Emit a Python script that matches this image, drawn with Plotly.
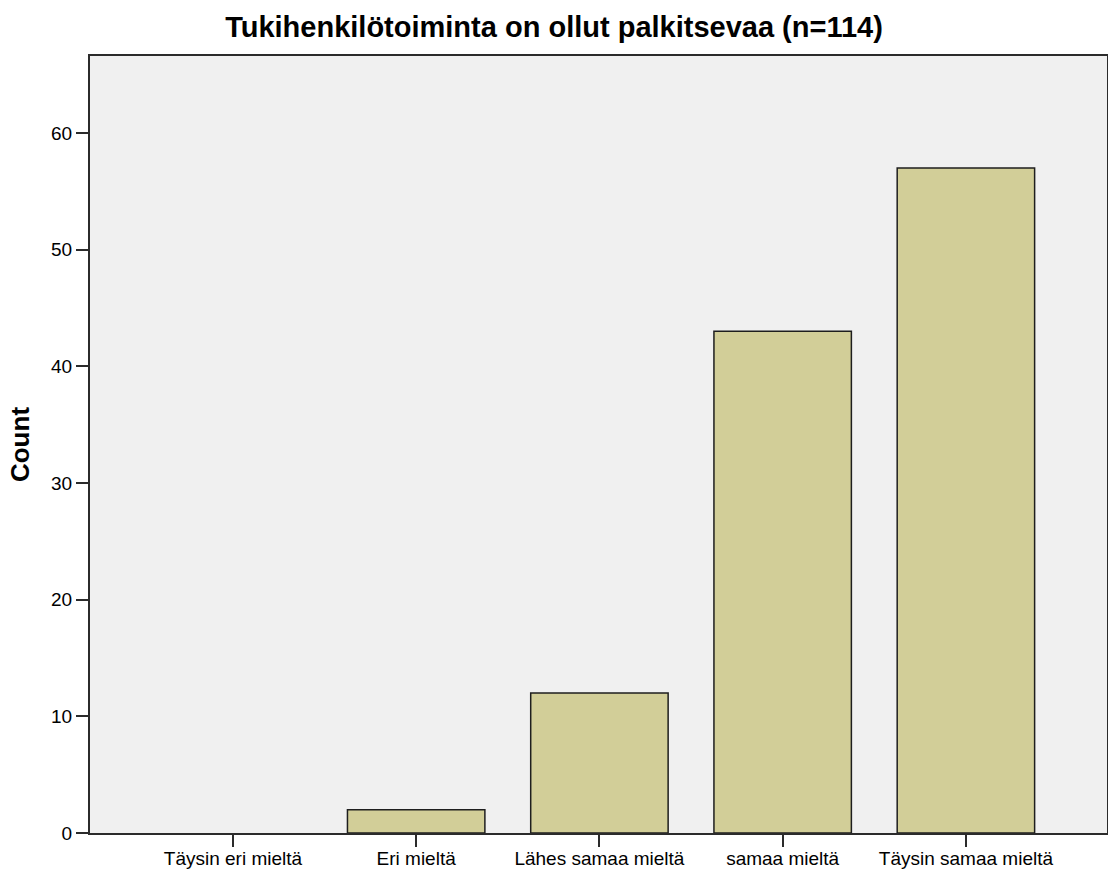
import plotly.graph_objects as go

categories = ["Täysin eri mieltä", "Eri mieltä", "Lähes samaa mieltä", "samaa mieltä", "Täysin samaa mieltä"]
counts = [0, 2, 12, 43, 57]
y_ticks = [0, 10, 20, 30, 40, 50, 60]

BAR_FILL = "#d2ce98"
PLOT_BG = "#f0f0f0"
LINE = "#2b2b2b"
FONT = "Liberation Sans, Arial, sans-serif"

# empty categories get no outline (SPSS draws nothing there)
outline_w = [1.5 if c > 0 else 0 for c in counts]

fig = go.Figure(go.Bar(
    x=list(range(len(categories))), y=counts,
    marker=dict(color=BAR_FILL, line=dict(color="#1e1e1e", width=outline_w)),
    width=0.75,
))

fig.update_layout(
    width=1108, height=869,
    paper_bgcolor="white", plot_bgcolor=PLOT_BG,
    font=dict(family=FONT, color="black", size=18),
    margin=dict(l=90, r=1, t=56, b=36, autoexpand=False),
    showlegend=False,
    title=dict(
        text="<b>Tukihenkilötoiminta on ollut palkitsevaa (n=114)</b>",
        x=0.5, xref="container", xanchor="center",
        y=1 - 27 / 869, yanchor="middle",
        font=dict(size=29, family=FONT),
    ),
)
fig.update_xaxes(
    tickmode="array", tickvals=list(range(len(categories))), ticktext=categories,
    range=[-0.78, 4.77], showgrid=False, zeroline=False,
    showline=True, linecolor=LINE, linewidth=2, mirror=True,
    ticks="outside", ticklen=12, tickwidth=2, tickcolor=LINE,
    ticklabelstandoff=-5,
    tickfont=dict(size=19),
)
fig.update_yaxes(
    tickmode="array", tickvals=y_ticks,
    range=[0, 66.6], showgrid=False, zeroline=False,
    showline=True, linecolor=LINE, linewidth=2, mirror=True,
    ticks="outside", ticklen=12, tickwidth=2, tickcolor=LINE,
    tickfont=dict(size=19),
    title=dict(text="<b>Count</b>", font=dict(size=26), standoff=14),
)

fig.write_html(
    "out.html",
    config={"displayModeBar": False},
    post_script="document.body.style.margin='0';",
)
